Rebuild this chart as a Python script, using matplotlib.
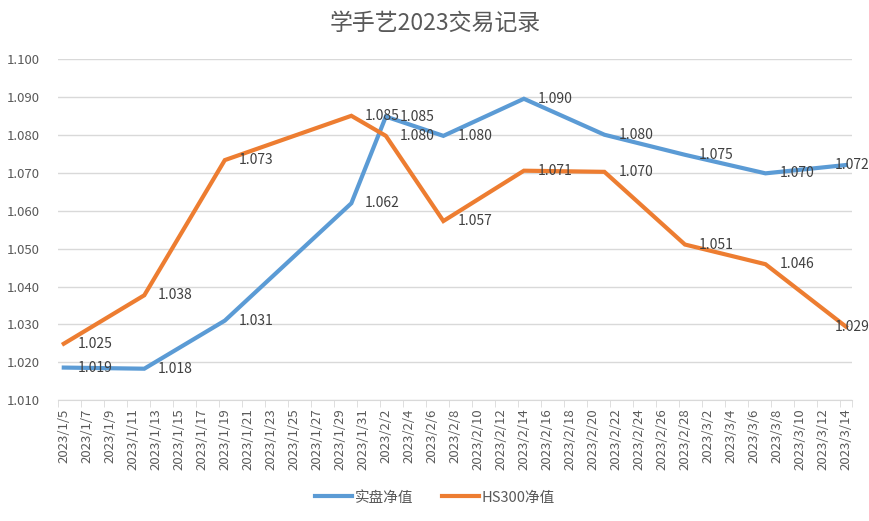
import pandas as pd
import matplotlib.pyplot as plt
from matplotlib.ticker import FixedLocator, FormatStrFormatter

plt.rcParams['font.family'] = ['Noto Sans CJK SC', 'DejaVu Sans']

dates = ["2023-01-05", "2023-01-12", "2023-01-19", "2023-01-30", "2023-02-02", "2023-02-07",
         "2023-02-14", "2023-02-21", "2023-02-28", "2023-03-07", "2023-03-14"]
real_nav = [1.0186, 1.0183, 1.0310, 1.0620, 1.0849, 1.0798, 1.0896, 1.0801, 1.0748, 1.0699, 1.0721]
hs300_nav = [1.0249, 1.0377, 1.0734, 1.0851, 1.0798, 1.0573, 1.0706, 1.0703, 1.0511, 1.0459, 1.0294]

start = pd.Timestamp("2023-01-05")
end = pd.Timestamp("2023-03-14")
x = [(pd.Timestamp(d) - start).days for d in dates]
n_days = (end - start).days

tick_days = list(range(0, n_days + 1, 2))
tick_labels = [f"{d.year}/{d.month}/{d.day}" for d in
               (start + pd.Timedelta(days=k) for k in tick_days)]

BLUE = "#5B9BD5"
ORANGE = "#ED7D31"
TXT = "#404040"

fig = plt.figure(figsize=(8.7, 5.21), dpi=100)
ax = fig.add_axes([0.0667, 0.232, 0.9123, 0.654])

ax.plot(x, real_nav, color=BLUE, lw=3, solid_joinstyle="miter", label="实盘净值", zorder=3)
ax.plot(x, hs300_nav, color=ORANGE, lw=3, solid_joinstyle="miter", label="HS300净值", zorder=3)

for ys in (real_nav, hs300_nav):
    for i, (xi, yi) in enumerate(zip(x, ys)):
        # last label is pulled back so it stays inside the chart (like Excel)
        dx = -8 if i == len(x) - 1 else 10
        ax.annotate(f"{yi:.3f}", (xi, yi), xytext=(dx, 0), textcoords="offset points",
                    ha="left", va="center", fontsize=10, color=TXT, zorder=4,
                    annotation_clip=False)

ax.set_xlim(-0.5, n_days + 0.5)
ax.set_ylim(1.010, 1.100)
ax.set_yticks([1.010 + 0.01 * i for i in range(10)])
ax.yaxis.set_major_formatter(FormatStrFormatter("%.3f"))
ax.grid(axis="y", color="#d9d9d9", lw=1)
ax.set_axisbelow(True)

ax.set_xticks(tick_days)
ax.set_xticklabels(tick_labels, rotation=90)
ax.xaxis.set_minor_locator(FixedLocator([k - 0.5 for k in tick_days] + [n_days + 0.5]))
ax.tick_params(axis="x", which="major", length=0, pad=6, labelsize=9.5, labelcolor="#595959")
ax.tick_params(axis="x", which="minor", length=5, color="#d9d9d9")
ax.tick_params(axis="y", length=0, pad=13, labelsize=9.5, labelcolor="#595959")

for s in ["top", "right", "left"]:
    ax.spines[s].set_visible(False)
ax.spines["bottom"].set_color("#d9d9d9")

fig.suptitle("学手艺2023交易记录", x=0.5, y=0.978, fontsize=16.5, color="#595959")

fig.legend(loc="center", bbox_to_anchor=(0.5, 0.045), ncol=2, frameon=False,
           fontsize=10.5, labelcolor="#595959", handlelength=2.5, handletextpad=0.2,
           columnspacing=2)

fig.savefig("out.png", dpi=100)
